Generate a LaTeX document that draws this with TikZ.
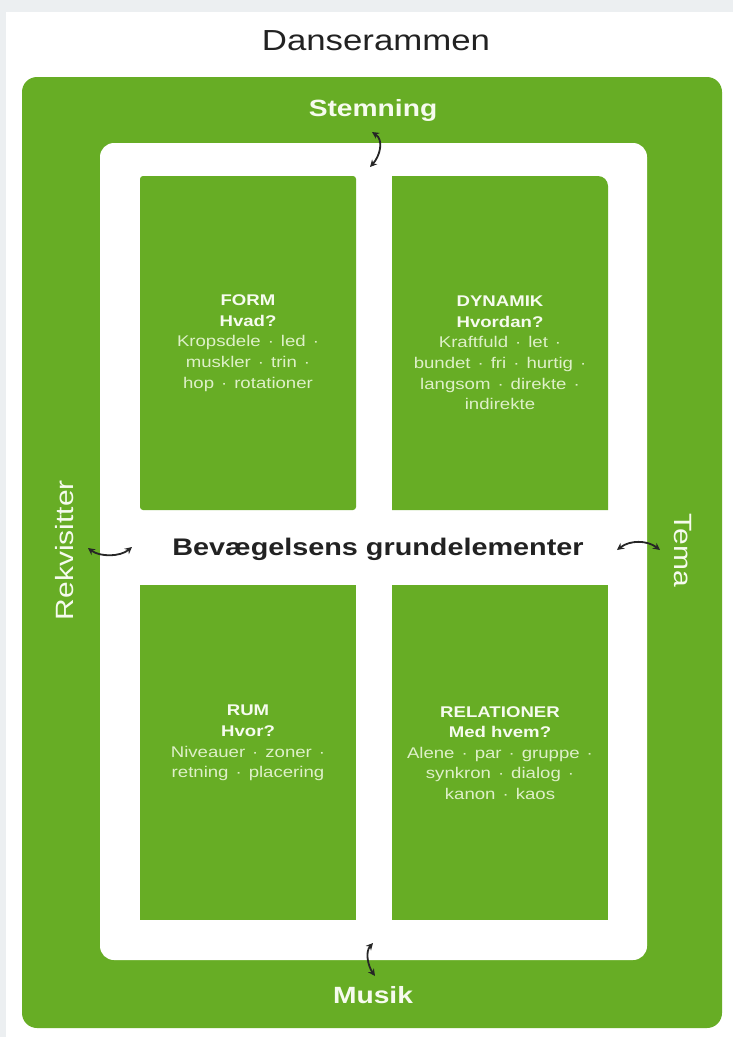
\documentclass[tikz,border=0pt]{standalone}
\usepackage{fontspec}
\setmainfont{Liberation Sans}[FakeStretch=1.2]
\usetikzlibrary{arrows.meta}
\definecolor{dgreen}{RGB}{103,173,37}
\definecolor{pale}{RGB}{222,240,200}
\definecolor{hdr}{RGB}{246,251,238}
\definecolor{greybg}{RGB}{236,239,241}
\definecolor{titlegrey}{RGB}{34,34,34}
\newcommand\dt{\hspace{7pt}·\hspace{7pt}}
\newcommand\dte{\hspace{7pt}·}
\begin{document}
\begin{tikzpicture}[x=1pt,y=-1pt,
  greenbox/.style={fill=dgreen,draw=none},
  boxtext/.style={align=center,inner sep=0pt,font=\fontsize{15.5}{20.6}\selectfont,text=pale},
  framelabel/.style={text=hdr,inner sep=0pt,font=\bfseries\fontsize{23.5}{28}\selectfont},
  sidelabel/.style={text=hdr,inner sep=0pt,font=\fontsize{25}{30}\selectfont},
  curlyarrow/.style={line width=1.8pt,draw=black!85,{Stealth[length=7pt,width=7pt]}-{Stealth[length=7pt,width=7pt]}}]
\useasboundingbox (0,0) rectangle (733,1037);
\fill[white] (0,0) rectangle (733,1037);
\fill[greybg] (0,0) rectangle (733,12);
\fill[greybg] (0,0) rectangle (6,1037);
% title
\node[text=titlegrey,font=\fontsize{29}{34}\selectfont] (title) at (376,41) {Danserammen};
% outer green frame
\fill[greenbox,rounded corners=15pt] (22,77) rectangle (722,1028);
% inner white frame
\fill[white,rounded corners=14pt] (100,143) rectangle (647,960);
% four boxes
\fill[greenbox,rounded corners=3pt] (140,176) rectangle (356,510);
\fill[greenbox] (392,176) -- (598,176) arc[start angle=-90,end angle=0,radius=10] -- (608,510) -- (392,510) -- cycle;
\fill[greenbox] (140,585) rectangle (356,920);
\fill[greenbox] (392,585) rectangle (608,920);
% box texts
\node[boxtext] (form) at (248,343) {{\color{hdr}\bfseries FORM}\\{\color{hdr}\bfseries Hvad?}\\Kropsdele\dt led\dte\\muskler\dt trin\dte\\hop\dt rotationer};
\node[boxtext] (dynamik) at (500,353) {{\color{hdr}\bfseries DYNAMIK}\\{\color{hdr}\bfseries Hvordan?}\\Kraftfuld\dt let\dte\\bundet\dt fri\dt hurtig\dte\\langsom\dt direkte\dte\\indirekte};
\node[boxtext] (rum) at (248,743) {{\color{hdr}\bfseries RUM}\\{\color{hdr}\bfseries Hvor?}\\Niveauer\dt zoner\dte\\retning\dt placering};
\node[boxtext] (relationer) at (500,753) {{\color{hdr}\bfseries RELATIONER}\\{\color{hdr}\bfseries Med hvem?}\\Alene\dt par\dt gruppe\dte\\synkron\dt dialog\dte\\kanon\dt kaos};
% centre label
\node[text=titlegrey,inner sep=0pt,font=\bfseries\fontsize{24}{28}\selectfont] (center) at (378,549) {Bevægelsens grundelementer};
% frame labels
\node[framelabel] (stemning) at (373,110) {Stemning};
\node[framelabel] (musik) at (373,995) {Musik};
\node[sidelabel,rotate=90] (rekv) at (65,550) {Rekvisitter};
\node[sidelabel,rotate=-90] (tema) at (683,550) {Tema};
% arrow end points
\coordinate (t1) at (372,132);
\coordinate (t2) at (370,167);
\coordinate (b1) at (373,943);
\coordinate (b2) at (375,976);
\coordinate (l1) at (88,548);
\coordinate (l2) at (132,547);
\coordinate (r1) at (617,550);
\coordinate (r2) at (660,550);
\draw[curlyarrow] (t1) .. controls (384,140) and (380,156) .. (t2);
\draw[curlyarrow] (b1) .. controls (365,952) and (368,966) .. (b2);
\draw[curlyarrow] (l1) .. controls (100,557) and (120,557) .. (l2);
\draw[curlyarrow] (r1) .. controls (630,540) and (647,540) .. (r2);
\end{tikzpicture}
\end{document}
